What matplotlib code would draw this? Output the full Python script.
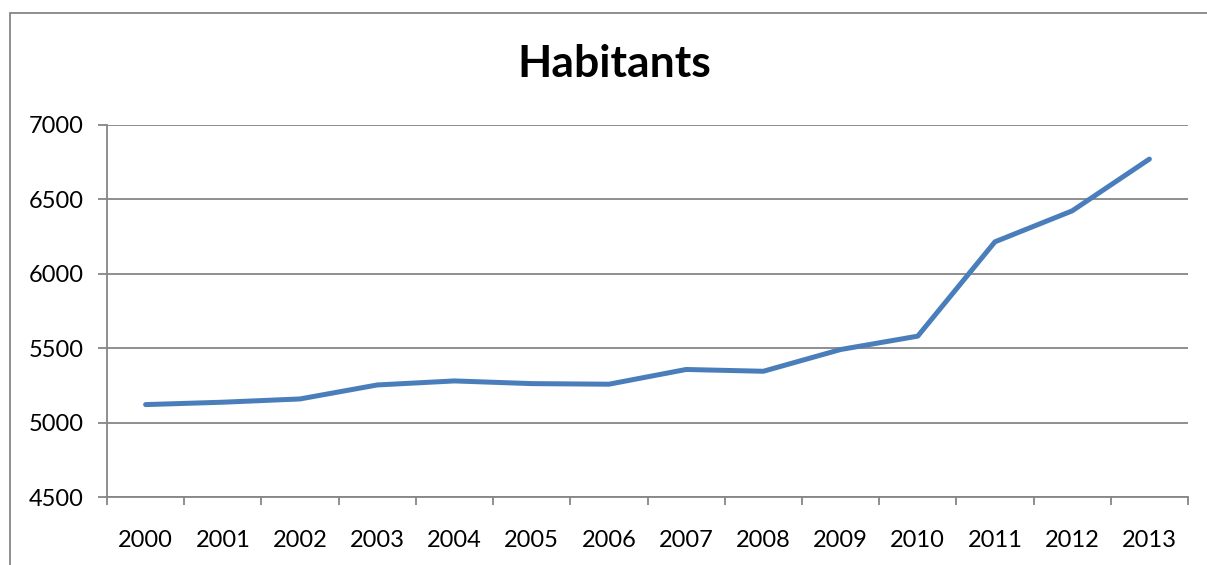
import matplotlib
matplotlib.use("Agg")
import matplotlib.pyplot as plt
from matplotlib.patches import Rectangle

years = ["2000", "2001", "2002", "2003", "2004", "2005", "2006",
         "2007", "2008", "2009", "2010", "2011", "2012", "2013"]
habitants = [5121, 5137, 5159, 5253, 5280, 5262, 5258,
             5357, 5345, 5491, 5581, 6215, 6423, 6771]
yticks = [4500, 5000, 5500, 6000, 6500, 7000]
title = "Habitants"

plt.rcParams['font.family'] = ['Lato', 'DejaVu Sans']
W, H = 1207, 565
fig = plt.figure(figsize=(W / 100, H / 100), dpi=100)
ax = fig.add_axes([107 / W, 1 - 497 / H, (1188 - 107) / W, (497 - 125) / H])

grey = "#868686"
x = list(range(len(years)))
ax.plot(x, habitants, color="#4a7ebb", linewidth=3.6, solid_capstyle="round",
        solid_joinstyle="round", zorder=3)

ax.set_xlim(-0.5, len(years) - 0.5)
ax.set_ylim(yticks[0], yticks[-1])
ax.set_yticks(yticks)
ax.set_yticklabels([str(v) for v in yticks])
ax.set_xticks(x)
ax.set_xticklabels(years)
ax.set_xticks([i - 0.5 for i in range(len(years) + 1)], minor=True)

ax.grid(axis="y", color=grey, linewidth=1.3, zorder=1)
for s in ["top", "right"]:
    ax.spines[s].set_visible(False)
for s in ["left", "bottom"]:
    ax.spines[s].set_color(grey)
    ax.spines[s].set_linewidth(1.3)

ax.tick_params(axis="y", length=6.5, width=1.3, color=grey, pad=10,
               labelsize=17, labelcolor="black")
ax.tick_params(axis="x", which="major", length=0, pad=24,
               labelsize=17, labelcolor="black")
ax.tick_params(axis="x", which="minor", length=6, width=1.3, color=grey)

fig.text(614 / W, 1 - 64 / H, title, ha="center", va="center",
         fontsize=32, fontweight="bold")

fig.patches.append(Rectangle((10 / W, -0.1), 1.2, 1 - 13 / H + 0.1,
                             transform=fig.transFigure, fill=False,
                             edgecolor=grey, linewidth=1.3))

fig.savefig("out.png", dpi=100)
